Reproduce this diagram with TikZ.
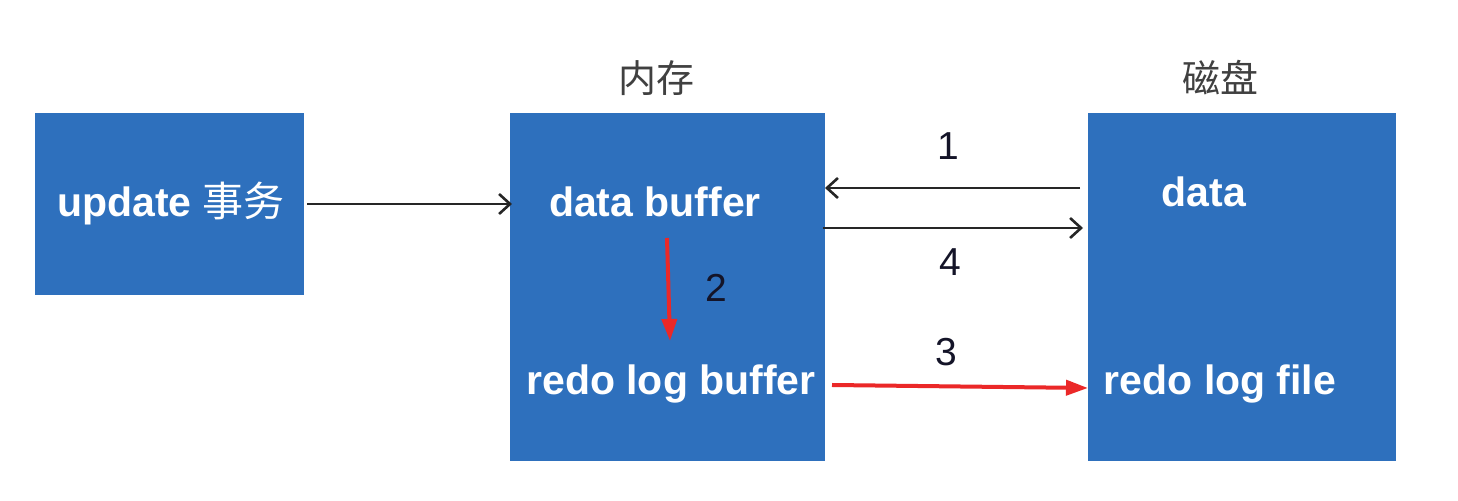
\documentclass[tikz,border=0pt]{standalone}
\usepackage{fontspec}
\setmainfont{Liberation Sans}
\newfontfamily\cjk{Noto Sans CJK SC}
\usetikzlibrary{arrows.meta}
\definecolor{boxblue}{RGB}{46,112,189}
\definecolor{numcol}{RGB}{20,20,40}
\definecolor{arrred}{RGB}{235,40,40}
\begin{document}
\begin{tikzpicture}[x=0.5pt,y=-0.5pt,
  bluebox/.style={fill=boxblue,draw=none,anchor=north west,inner sep=0pt},
  boxtext/.style={text=white,font=\fontsize{20.5}{23}\selectfont\bfseries,inner sep=0pt},
  titletext/.style={text=black!75,font=\fontsize{19}{22}\selectfont\cjk,inner sep=0pt},
  numtext/.style={text=numcol,font=\fontsize{19.5}{22}\selectfont,inner sep=0pt},
  blackarrow/.style={draw=black!85,line width=1.3pt,-{Straight Barb[length=5.5pt,width=10pt,line width=1.3pt]}},
  redarrow/.style={draw=arrred,line width=2pt,-{Triangle[length=11pt,width=7.5pt]}}]
\useasboundingbox (0,0) rectangle (1458,501);
\fill[white] (0,0) rectangle (1458,501);
% boxes
\node[bluebox,minimum width=134.5pt,minimum height=91pt] (upd) at (35,113) {};
\node[bluebox,minimum width=157.5pt,minimum height=174pt] (mem) at (510,113) {};
\node[bluebox,minimum width=154pt,minimum height=174pt] (disk) at (1088,113) {};
% texts
\node[boxtext] (updt) at (171,204) {update {\cjk\mdseries 事务}};
\node[boxtext] (dbuf) at (655,202) {data buffer};
\node[boxtext] (rbuf) at (671,384) {redo log buffer};
\node[boxtext] (ddat) at (1204,192) {data};
\node[boxtext] (rfile) at (1220,384) {redo log file};
\node[titletext] (t1) at (656,78) {内存};
\node[titletext] (t2) at (1220,78) {磁盘};
% numbers
\node[numtext] (n1) at (948,146) {1};
\node[numtext] (n4) at (950,262) {4};
\node[numtext] (n2) at (716,288) {2};
\node[numtext] (n3) at (946,352) {3};
% connector endpoints
\coordinate (u1) at (307,204);
\coordinate (u2) at (512,204);
\coordinate (r1s) at (1080,188);
\coordinate (r1e) at (825,188);
\coordinate (r4s) at (823,228);
\coordinate (r4e) at (1083,228);
\coordinate (r2s) at (667,238);
\coordinate (r2e) at (670,341);
\coordinate (r3s) at (832,385);
\coordinate (r3e) at (1088,388);
% arrows
\draw[blackarrow] (u1) -- (u2);
\draw[blackarrow] (r1s) -- (r1e);
\draw[blackarrow] (r4s) -- (r4e);
\draw[redarrow] (r2s) -- (r2e);
\draw[redarrow] (r3s) -- (r3e);
\end{tikzpicture}
\end{document}
